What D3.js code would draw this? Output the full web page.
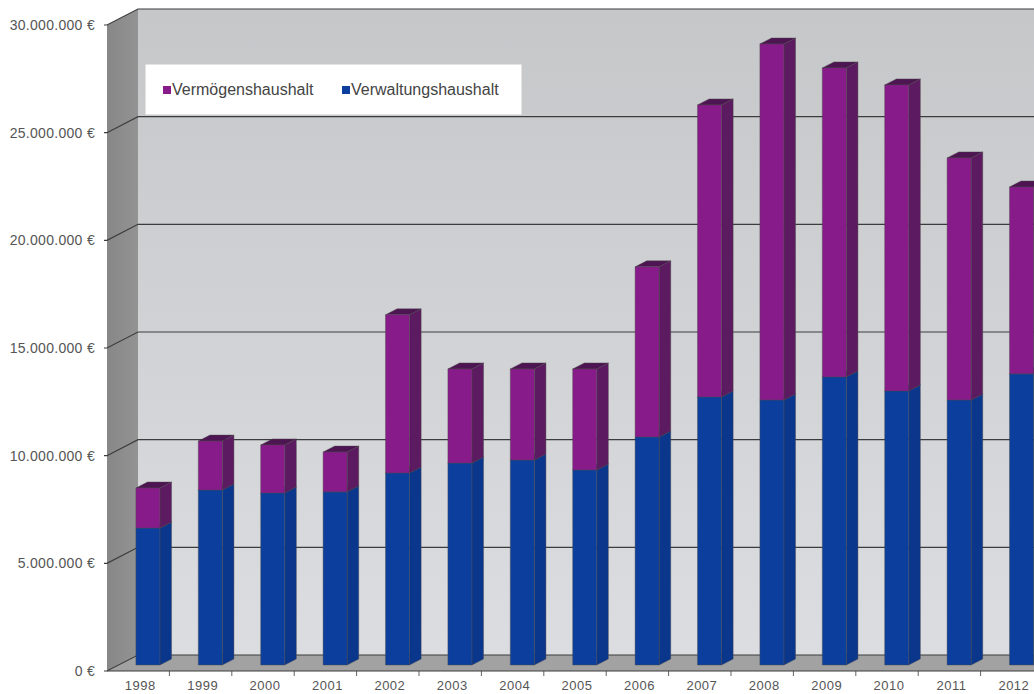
<!DOCTYPE html>
<html>
<head>
<meta charset="utf-8">
<script src="https://cdn.jsdelivr.net/npm/d3@7"></script>
<style>
  html, body { margin: 0; padding: 0; background: #ffffff; }
  svg { display: block; font-family: "Liberation Sans", Arial, sans-serif; }
</style>
</head>
<body>
<svg id="chart" width="1034" height="694"></svg>
<script>
// ---- data ----
const years = ["1998","1999","2000","2001","2002","2003","2004","2005","2006","2007","2008","2009","2010","2011","2012"];
const verwaltungshaushalt = [6360000, 8130000, 7990000, 8040000, 8920000, 9380000, 9520000, 9060000, 10590000, 12450000, 12310000, 13380000, 12730000, 12310000, 13520000];
const vermoegenshaushalt = [1860000, 2270000, 2230000, 1850000, 7340000, 4370000, 4230000, 4690000, 7900000, 13560000, 16530000, 14350000, 14210000, 11240000, 8680000];
const yTicks = [0, 5000000, 10000000, 15000000, 20000000, 25000000, 30000000];
const seriesNames = ["Vermögenshaushalt", "Verwaltungshaushalt"];

// ---- layout ----
const W = 1034, H = 694;
const svg = d3.select("#chart");
const DX = 31, DY = -16;          // depth vector
const Z0 = 0.375, Z1 = 0.75;      // bar depth range
const step = 62.4;
const x = d3.scaleBand().domain(years)
  .range([107, 107 + step * years.length])
  .paddingInner(0.615).paddingOuter(0.3075).align(0.45);
const y = d3.scaleLinear().domain([0, 30000000]).range([671, 25]);
const P = (xx, v, z) => [xx + z * DX, y(v) + z * DY];
const poly = pts => pts.map(p => p.join(",")).join(" ");

const defs = svg.append("defs");
const gBack = defs.append("linearGradient").attr("id", "back").attr("x1", 0).attr("y1", 0).attr("x2", 0).attr("y2", 1);
gBack.append("stop").attr("offset", "0%").attr("stop-color", "#c6c7c9");
gBack.append("stop").attr("offset", "100%").attr("stop-color", "#dcdde0");
const gLeft = defs.append("linearGradient").attr("id", "left").attr("x1", 0).attr("y1", 0).attr("x2", 1).attr("y2", 0);
gLeft.append("stop").attr("offset", "0%").attr("stop-color", "#878787");
gLeft.append("stop").attr("offset", "100%").attr("stop-color", "#939393");

const xL = 107, xR = 1100;
const vMax = 30000000;
// back wall
svg.append("polygon").attr("points", poly([P(xL, 0, 1), P(xL, vMax, 1), P(xR, vMax, 1), P(xR, 0, 1)]))
  .attr("fill", "url(#back)");
// left wall
svg.append("polygon").attr("points", poly([P(xL, 0, 0), P(xL, vMax, 0), P(xL, vMax, 1), P(xL, 0, 1)]))
  .attr("fill", "url(#left)");
// floor
svg.append("polygon").attr("points", poly([P(xL, 0, 0), P(xL, 0, 1), P(xR, 0, 1), P(xR, 0, 0)]))
  .attr("fill", "#a2a2a2");

// gridlines
const grid = svg.append("g").attr("stroke", "#3c3c3c").attr("stroke-width", 1.1).attr("fill", "none");
yTicks.forEach(v => {
  const a = P(xL, v, 0), b = P(xL, v, 1), c = P(xR, v, 1);
  grid.append("polyline").attr("points", poly([[a[0] - 3, a[1]], a, b, c]));
});
// front floor edge
grid.append("line").attr("x1", P(xL, 0, 0)[0]).attr("y1", P(xL, 0, 0)[1]).attr("x2", xR).attr("y2", P(xL, 0, 0)[1]);
// category ticks
years.forEach((yr, i) => {
  const xx = 107 + step * i;
  if (i > 0) grid.append("line").attr("x1", xx).attr("x2", xx).attr("y1", y(0)).attr("y2", y(0) + 5).attr("stroke-width", 0.8);
});

// y labels
const fmt = d3.formatLocale({ decimal: ",", thousands: ".", grouping: [3], currency: ["", " €"] }).format(",d");
svg.append("g").selectAll("text").data(yTicks).join("text")
  .attr("x", 95).attr("y", d => y(d) + 5)
  .attr("text-anchor", "end")
  .attr("font-size", 14).attr("letter-spacing", 0.3)
  .attr("fill", "#555")
  .text(d => fmt(d) + " €");

// bars
const colors = {
  verw: { front: "#0c3f9d", side: "#0a368c", top: "#082f7c" },
  verm: { front: "#871b8a", side: "#5c1a60", top: "#4d1552" }
};
const bars = svg.append("g");
years.forEach((yr, i) => {
  const x0 = x(yr), x1 = x0 + x.bandwidth();
  const segs = [
    { v0: 0, v1: verwaltungshaushalt[i], c: colors.verw },
    { v0: verwaltungshaushalt[i], v1: verwaltungshaushalt[i] + vermoegenshaushalt[i], c: colors.verm }
  ];
  segs.forEach(s => {
    const g = bars.append("g").attr("stroke", "#4a4a4a").attr("stroke-width", 0.6).attr("stroke-opacity", 0.7);
    g.append("polygon").attr("points", poly([P(x1, s.v0, Z0), P(x1, s.v0, Z1), P(x1, s.v1, Z1), P(x1, s.v1, Z0)])).attr("fill", s.c.side);
    g.append("polygon").attr("points", poly([P(x0, s.v1, Z0), P(x1, s.v1, Z0), P(x1, s.v1, Z1), P(x0, s.v1, Z1)])).attr("fill", s.c.top);
    g.append("polygon").attr("points", poly([P(x0, s.v0, Z0), P(x1, s.v0, Z0), P(x1, s.v1, Z0), P(x0, s.v1, Z0)])).attr("fill", s.c.front);
  });
});

// x labels
svg.append("g").selectAll("text").data(years).join("text")
  .attr("x", d => x(d) + x.bandwidth() / 2 + 4)
  .attr("y", 690)
  .attr("text-anchor", "middle")
  .attr("font-size", 13).attr("letter-spacing", 0.5)
  .attr("fill", "#555")
  .text(d => d);

// legend
const lg = svg.append("g");
lg.append("rect").attr("x", 145).attr("y", 64).attr("width", 377).attr("height", 51)
  .attr("fill", "#ffffff").attr("stroke", "#c8c8c8").attr("stroke-width", 1);
const legendItems = [
  { name: seriesNames[0], color: colors.verm.front, x: 163 },
  { name: seriesNames[1], color: colors.verw.front, x: 342 }
];
legendItems.forEach(it => {
  lg.append("rect").attr("x", it.x).attr("y", 86).attr("width", 8).attr("height", 8).attr("fill", it.color);
  lg.append("text").attr("x", it.x + 9).attr("y", 95).attr("font-size", 16).attr("fill", "#444").text(it.name);
});
</script>
</body>
</html>
